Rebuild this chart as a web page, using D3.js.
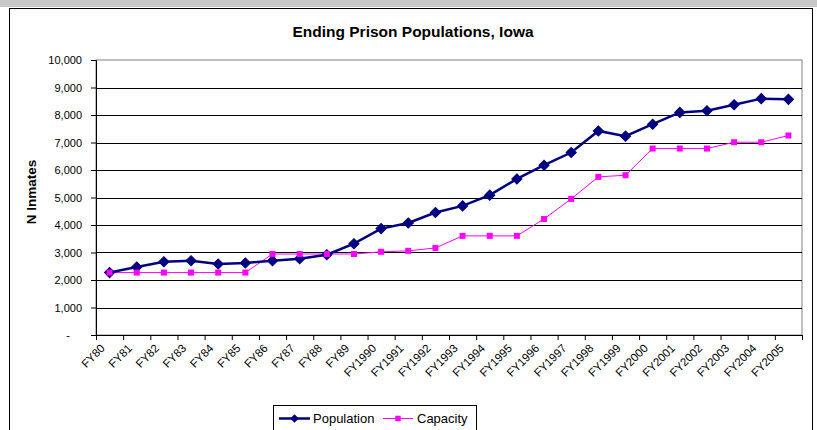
<!DOCTYPE html>
<html>
<head>
<meta charset="utf-8">
<script src="https://cdn.jsdelivr.net/npm/d3@7"></script>
<style>
  html, body { margin: 0; padding: 0; background: #fff; }
  svg { display: block; font-family: "Liberation Sans", Arial, sans-serif; }
</style>
</head>
<body>
<svg id="chart" width="817" height="430"></svg>
<script>
const categories = ["FY80","FY81","FY82","FY83","FY84","FY85","FY86","FY87","FY88","FY89",
  "FY1990","FY1991","FY1992","FY1993","FY1994","FY1995","FY1996","FY1997","FY1998","FY1999",
  "FY2000","FY2001","FY2002","FY2003","FY2004","FY2005"];
const population = [2270, 2470, 2665, 2700, 2580, 2620, 2700, 2775, 2920, 3320,
  3870, 4075, 4455, 4695, 5085, 5675, 6175, 6635, 7420, 7230,
  7665, 8095, 8155, 8375, 8595, 8570];
const capacity = [2270, 2270, 2270, 2270, 2270, 2270, 2945, 2945, 2945, 2945,
  3025, 3060, 3165, 3605, 3605, 3605, 4220, 4950, 5750, 5810,
  6780, 6780, 6780, 7010, 7010, 7255];
const yTicks = [0, 1000, 2000, 3000, 4000, 5000, 6000, 7000, 8000, 9000, 10000];
const title = "Ending Prison Populations, Iowa";
const yLabel = "N Inmates";
const seriesNames = ["Population", "Capacity"];

(function () {
const svg = d3.select("#chart");
const W = 817, H = 430;
const pL = 96, pR = 802, pT = 60, pB = 335;

// outer frame
svg.append("rect").attr("x", 0).attr("y", 0).attr("width", W).attr("height", 7).attr("fill", "#c8c8c8");
svg.append("rect").attr("x", 9.5).attr("y", 8.5).attr("width", 803).attr("height", 430)
  .attr("fill", "#fff").attr("stroke", "#000").attr("stroke-width", 1);

const x = d3.scaleBand().domain(categories).range([pL, pR]).padding(0);
const xi = d3.scaleLinear().domain([0, categories.length]).range([pL, pR]);
const y = d3.scaleLinear().domain([0, 10000]).range([pB, pT]);
const cx = c => x(c) + x.bandwidth() / 2;

// plot area border
svg.append("rect").attr("x", pL).attr("y", y(10000)).attr("width", pR - pL)
  .attr("height", pB - y(10000)).attr("fill", "none").attr("stroke", "#808080").attr("stroke-width", 1);

// gridlines
svg.append("g").selectAll("line").data(yTicks.filter(t => t > 0 && t < 10000)).join("line")
  .attr("x1", pL).attr("x2", pR)
  .attr("y1", d => Math.round(y(d)) + 0.5).attr("y2", d => Math.round(y(d)) + 0.5)
  .attr("stroke", "#000").attr("stroke-width", 1);

// y axis
const yAxis = d3.axisLeft(y).tickValues(yTicks).tickSize(5).tickPadding(9)
  .tickFormat(d => d === 0 ? "-" : d3.format(",")(d));
const gy = svg.append("g").attr("transform", `translate(${pL},0)`).call(yAxis);
gy.selectAll("text").attr("font-size", 11).attr("font-family", "Liberation Sans, Arial, sans-serif").attr("fill", "#000");
gy.selectAll("text").filter(d => d === 0).attr("dx", -12);
gy.selectAll("line, path").attr("stroke", "#000");

// x axis (ticks between categories)
const xAxis = d3.axisBottom(xi).tickValues(d3.range(0, categories.length + 1)).tickSize(5).tickFormat("");
const gx = svg.append("g").attr("transform", `translate(0,${pB})`).call(xAxis);
gx.selectAll("line, path").attr("stroke", "#000");

svg.append("g").selectAll("text").data(categories).join("text")
  .attr("transform", d => `translate(${cx(d) - 4},${pB + 14}) rotate(-45)`)
  .attr("text-anchor", "end").attr("font-size", 11.5).attr("fill", "#000").text(d => d);

// title & axis label
svg.append("text").attr("x", 413).attr("y", 37).attr("text-anchor", "middle")
  .attr("font-size", 15.5).attr("font-weight", "bold").text(title);
svg.append("text").attr("transform", `translate(36,192) rotate(-90)`)
  .attr("text-anchor", "middle").attr("font-size", 13.5).attr("font-weight", "bold").text(yLabel);

// lines
const line = d3.line().x((d, i) => cx(categories[i])).y(d => y(d));
svg.append("path").datum(capacity).attr("d", line).attr("fill", "none").attr("stroke", "#FF00FF").attr("stroke-width", 1);
svg.append("path").datum(population).attr("d", line).attr("fill", "none").attr("stroke", "#000080").attr("stroke-width", 2.5);

const diamond = d3.symbol().type(d3.symbolSquare).size(52);
const square = d3.symbol().type(d3.symbolSquare).size(36);

svg.append("g").selectAll("path").data(population).join("path")
  .attr("d", diamond).attr("transform", (d, i) => `translate(${cx(categories[i])},${y(d)}) rotate(45)`)
  .attr("fill", "#000080").attr("stroke", "#000080").attr("stroke-width", 1);
svg.append("g").selectAll("path").data(capacity).join("path")
  .attr("d", square).attr("transform", (d, i) => `translate(${cx(categories[i])},${y(d)})`)
  .attr("fill", "#FF00FF");

// legend
const lg = svg.append("g");
lg.append("rect").attr("x", 273.5).attr("y", 405.5).attr("width", 203).attr("height", 40)
  .attr("fill", "#fff").attr("stroke", "#000").attr("stroke-width", 1);
lg.append("line").attr("x1", 279).attr("x2", 310).attr("y1", 418.5).attr("y2", 418.5)
  .attr("stroke", "#000080").attr("stroke-width", 2.5);
lg.append("path").attr("d", d3.symbol().type(d3.symbolSquare).size(36)())
  .attr("transform", "translate(294.5,418.5) rotate(45)").attr("fill", "#000080");
lg.append("text").attr("x", 313).attr("y", 423).attr("font-size", 13).text(seriesNames[0]);
lg.append("line").attr("x1", 383).attr("x2", 413).attr("y1", 418.5).attr("y2", 418.5)
  .attr("stroke", "#FF00FF").attr("stroke-width", 1);
lg.append("path").attr("d", d3.symbol().type(d3.symbolSquare).size(30)())
  .attr("transform", "translate(398,418.5)").attr("fill", "#FF00FF");
lg.append("text").attr("x", 417).attr("y", 423).attr("font-size", 13).text(seriesNames[1]);
})();
</script>
</body>
</html>
